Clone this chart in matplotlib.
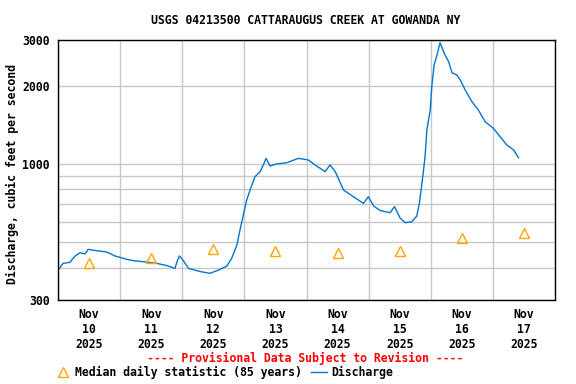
import pandas as pd
import matplotlib
matplotlib.use('Agg')
import matplotlib.pyplot as plt
import matplotlib.dates as mdates
from matplotlib.ticker import FixedLocator, FixedFormatter, NullFormatter, NullLocator

plt.rcParams['font.family'] = 'DejaVu Sans Mono'
plt.rcParams['font.weight'] = 'bold'
plt.rcParams['font.size'] = 8.3

start = pd.Timestamp('2025-11-10 00:00')

# discharge: hours since Nov 10 00:00, cfs
q_hours = [0.3, 2.0, 4.6, 6.6, 8.5, 10.4, 11.7, 15.0, 18.8, 22.0,
           26.6, 29.1, 33.0, 38.1, 42.0, 45.2, 45.9, 46.9, 48.2, 50.4,
           54.9, 58.7, 62.0, 65.2, 67.1, 69.1, 70.3, 71.6, 72.9, 74.2,
           76.1, 78.1, 79.3, 80.4, 81.9, 84.5, 88.4, 92.9, 96.7, 99.3,
           103.2, 105.1, 107.1, 110.3, 114.1, 118.0, 119.9, 121.9, 124.5, 128.3,
           130.0, 132.2, 134.1, 136.7, 138.6, 139.6, 141.0, 141.8, 142.5, 143.8,
           144.4, 145.3, 146.4, 147.6, 149.2, 150.9, 152.2, 154.1, 155.4, 157.3,
           159.9, 162.4, 165.0, 168.2, 170.8, 173.4, 176.0, 177.9]
q_cfs = [394, 415, 419, 443, 456, 451, 470, 464, 459, 443,
         430, 425, 421, 415, 407, 397, 419, 443, 428, 397,
         386, 380, 391, 405, 434, 488, 557, 637, 727, 795,
         894, 935, 992, 1052, 983, 1001, 1012, 1052, 1037, 992,
         935, 992, 935, 795, 749, 706, 749, 690, 662, 650,
         686, 619, 595, 600, 631, 706, 908, 1067, 1352, 1614,
         1984, 2404, 2627, 2929, 2666, 2476, 2246, 2200, 2105, 1927,
         1737, 1614, 1455, 1372, 1274, 1184, 1133, 1058]

# median daily statistic (85 years), one per day
med_days = ['2025-11-10', '2025-11-11', '2025-11-12', '2025-11-13',
            '2025-11-14', '2025-11-15', '2025-11-16', '2025-11-17']
med_cfs = [416, 437, 473, 463, 455, 463, 519, 543]

y_ticks = [300, 400, 500, 600, 700, 800, 900, 1000, 2000, 3000]
y_labels = ['300', '', '', '', '', '', '', '1000', '2000', '3000']

q_time = start + pd.to_timedelta(q_hours, unit='h')
med_time = pd.to_datetime(med_days) + pd.Timedelta(hours=12)

fig = plt.figure(figsize=(5.76, 3.84), dpi=100)
ax = fig.add_axes([58 / 576, 1 - 300 / 384, 497 / 576, 260 / 384])

line, = ax.plot(q_time, q_cfs, color='#0077cc', lw=1.0, label='Discharge')
tri, = ax.plot(med_time, med_cfs, ls='none', marker='^', ms=7, mfc='none',
               mec='#ffa500', mew=1.0, label='Median daily statistic (85 years)')

ax.set_yscale('log')
ax.set_ylim(300, 3000)
ax.yaxis.set_major_locator(FixedLocator(y_ticks))
ax.yaxis.set_major_formatter(FixedFormatter(y_labels))
ax.yaxis.set_minor_locator(NullLocator())
ax.tick_params(axis='y', length=0, pad=6)

ax.set_xlim(start, start + pd.Timedelta(days=8))
ax.xaxis.set_major_locator(mdates.DayLocator())
ax.xaxis.set_major_formatter(NullFormatter())
ax.xaxis.set_minor_locator(mdates.HourLocator(byhour=[12]))
ax.xaxis.set_minor_formatter(mdates.DateFormatter('%b\n%d\n%Y'))
ax.tick_params(axis='x', which='both', length=0, pad=6)
for t in ax.xaxis.get_minor_ticks():
    t.label1.set_linespacing(1.2)

ax.grid(True, which='major', color='#c8c8c8', lw=1.0)
ax.set_axisbelow(True)
for s in ax.spines.values():
    s.set_linewidth(1.0)

fig.text(306 / 576, 1 - 20 / 384, 'USGS 04213500 CATTARAUGUS CREEK AT GOWANDA NY',
         ha='center', va='center')
fig.text(12 / 576, 1 - 174 / 384, 'Discharge, cubic feet per second',
         rotation=90, ha='center', va='center')
fig.text(305.5 / 576, 1 - 358 / 384, '---- Provisional Data Subject to Revision ----',
         ha='center', va='center', color='red')

fig.legend(handles=[tri, line], loc='center', bbox_to_anchor=(224 / 576, 1 - 372 / 384),
           ncol=2, frameon=False, handlelength=1.4, handletextpad=0.35,
           columnspacing=0.8, borderpad=0, borderaxespad=0)

fig.savefig('out.png', dpi=100)
